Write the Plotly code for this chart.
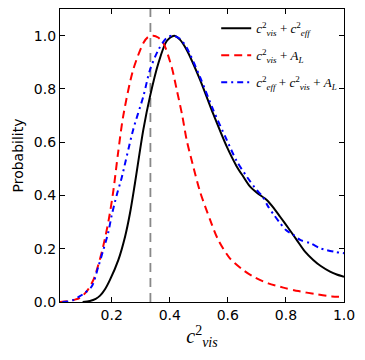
import plotly.graph_objects as go

# Black solid: c_vis^2 + c_eff^2
x_black = [0.10, 0.125, 0.145, 0.16, 0.177, 0.194, 0.223, 0.246, 0.263, 0.28, 0.309, 0.332, 0.361, 0.389, 0.415,
           0.435, 0.458, 0.504, 0.55, 0.596, 0.63, 0.653, 0.676, 0.70, 0.734, 0.76, 0.78,
           0.81, 0.837, 0.865, 0.894, 0.92, 0.952, 0.975, 1.0]
y_black = [0.0, 0.004, 0.012, 0.024, 0.048, 0.083, 0.158, 0.245, 0.333, 0.445, 0.647, 0.772, 0.897, 0.979, 1.0,
           0.985, 0.947, 0.835, 0.705, 0.584, 0.51, 0.471, 0.434, 0.41, 0.383, 0.35, 0.32,
           0.275, 0.233, 0.19, 0.158, 0.135, 0.114, 0.103, 0.095]

# Red dashed: c_vis^2 + A_L
x_red = [0.02, 0.05, 0.07, 0.091, 0.114, 0.137, 0.154, 0.171, 0.19, 0.206, 0.222, 0.24, 0.274, 0.309,
         0.325, 0.343, 0.36, 0.378, 0.407, 0.424, 0.443, 0.458, 0.478, 0.504, 0.539, 0.567,
         0.607, 0.653, 0.688, 0.739, 0.791, 0.843, 0.9, 0.958, 1.0]
y_red = [0.0, 0.003, 0.008, 0.016, 0.04, 0.083, 0.14, 0.21, 0.31, 0.42, 0.56, 0.70, 0.872, 0.972,
         0.995, 1.0, 0.993, 0.972, 0.88, 0.797, 0.70, 0.609, 0.521, 0.415, 0.308, 0.233,
         0.164, 0.12, 0.095, 0.07, 0.054, 0.041, 0.03, 0.021, 0.019]

# Blue dash-dot: c_eff^2 + c_vis^2 + A_L
x_blue = [0.03, 0.05, 0.068, 0.085, 0.102, 0.131, 0.154, 0.171, 0.188, 0.2, 0.217, 0.234, 0.274,
          0.309, 0.332, 0.361, 0.389, 0.41, 0.435, 0.458, 0.504, 0.55, 0.596, 0.63, 0.665,
          0.699, 0.72, 0.739, 0.76, 0.78, 0.80, 0.826, 0.849, 0.883, 0.917, 0.94, 0.97, 1.0]
y_blue = [0.0, 0.002, 0.0075, 0.018, 0.03, 0.058, 0.133, 0.195, 0.26, 0.325, 0.40, 0.465, 0.647,
          0.772, 0.872, 0.947, 0.991, 1.0, 0.988, 0.955, 0.845, 0.72, 0.609, 0.53, 0.471,
          0.421, 0.395, 0.358, 0.325, 0.296, 0.27, 0.252, 0.233, 0.221, 0.202, 0.195, 0.188, 0.183]

x_ref = 1.0 / 3.0
x_ticks = [0.2, 0.4, 0.6, 0.8, 1.0]
y_ticks = [0.0, 0.2, 0.4, 0.6, 0.8, 1.0]

names = [
    "<i>c</i><sup>2</sup><sub><i>vis</i></sub> + <i>c</i><sup>2</sup><sub><i>eff</i></sub>",
    "<i>c</i><sup>2</sup><sub><i>vis</i></sub> + <i>A</i><sub><i>L</i></sub>",
    "<i>c</i><sup>2</sup><sub><i>eff</i></sub> + <i>c</i><sup>2</sup><sub><i>vis</i></sub> + <i>A</i><sub><i>L</i></sub>",
]

fig = go.Figure()
fig.add_trace(go.Scatter(x=[x_ref, x_ref], y=[0, 1.1], mode="lines",
                         line=dict(color="#888888", width=1.8, dash="9px,6px"),
                         showlegend=False, hoverinfo="skip"))
fig.add_trace(go.Scatter(x=x_black, y=y_black, mode="lines", name=names[0], legendgroup="a",
                         line=dict(color="black", width=2, shape="spline", smoothing=0.8)))
fig.add_trace(go.Scatter(x=x_red, y=y_red, mode="lines", name=names[1], legendgroup="b",
                         line=dict(color="red", width=2, dash="8px,5px", shape="spline", smoothing=0.8)))
fig.add_trace(go.Scatter(x=x_blue, y=y_blue, mode="lines", name=names[2], legendgroup="c",
                         line=dict(color="blue", width=2, dash="6px,4px,2px,4px", shape="spline", smoothing=0.8)))

axis_common = dict(showline=True, linecolor="black", linewidth=1.2, mirror="allticks",
                   ticks="inside", ticklen=5, tickwidth=1, tickcolor="black",
                   showgrid=False, zeroline=False, automargin=False,
                   tickfont=dict(family="DejaVu Sans", size=14, color="black"))

fig.update_xaxes(range=[0.022, 1.0], tickvals=x_ticks, ticktext=[f"{v:.1f}" for v in x_ticks],
                 title=dict(text="<i>c</i><sup>2</sup><sub><i>vis</i></sub>",
                            font=dict(family="Liberation Serif", size=20, color="black"), standoff=6),
                 **axis_common)
fig.update_yaxes(range=[0, 1.1], tickvals=y_ticks, ticktext=[f"{v:.1f}" for v in y_ticks],
                 title=dict(text="Probability", font=dict(family="DejaVu Sans", size=14, color="black"),
                            standoff=6),
                 **axis_common)

# page body has an 8px margin, so the figure is 8px smaller and left/top margins shifted
fig.update_layout(
    width=357, height=352,
    margin=dict(l=52, r=21, t=1, b=58),
    paper_bgcolor="white", plot_bgcolor="white",
    legend=dict(x=0.55, y=0.985, xanchor="left", yanchor="top", bgcolor="rgba(0,0,0,0)",
                font=dict(family="Liberation Serif", size=13, color="black"),
                itemwidth=30, tracegroupgap=7),
)

fig.write_html("out.html")
